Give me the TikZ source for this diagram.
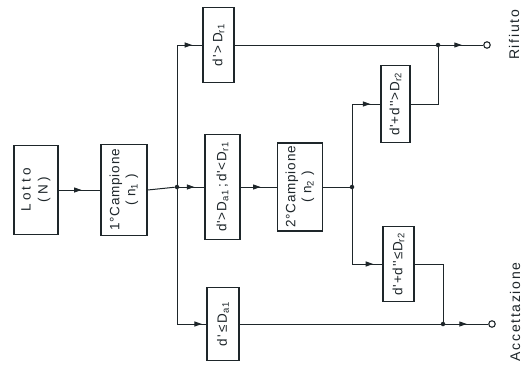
\documentclass[tikz,border=0pt]{standalone}
\usepackage{fontspec}
\setmainfont{Liberation Sans}
\newfontfamily\boxfont[LetterSpace=6]{Liberation Sans}
\newfontfamily\wideboxfont[LetterSpace=25]{Liberation Sans}
\newfontfamily\labfont[LetterSpace=12]{Liberation Sans}
\usetikzlibrary{arrows.meta,decorations.markings}
\definecolor{ink}{RGB}{30,38,42}
\begin{document}
\begin{tikzpicture}[x=1pt,y=-1pt,
  box/.style={draw=ink, line width=1.4pt, rotate=90, inner sep=0pt, align=center,
    font=\boxfont\fontsize{13.5}{16}\selectfont, text=ink},
  ln/.style={draw=ink, line width=1pt},
  midarrow/.style={postaction={decorate},decoration={markings,
    mark=at position #1 with {\arrow{Triangle[length=7.5pt,width=5pt]}}}},
  dot/.style={circle, fill=ink, inner sep=0pt, minimum size=4.5pt},
  term/.style={circle, draw=ink, line width=1.1pt, fill=white, inner sep=0pt, minimum size=6.5pt},
  lab/.style={rotate=90, font=\labfont\fontsize{14}{16}\selectfont, text=ink}
]
\useasboundingbox (0,0) rectangle (525,367);
\fill[white] (0,0) rectangle (525,367);

% boxes
\node[box, minimum width=89pt, minimum height=44pt, font=\wideboxfont\fontsize{13.5}{17}\selectfont] (lotto) at (36,190) {Lotto\\(N)};
\node[box, minimum width=91pt, minimum height=46pt] (camp1) at (124,190) {1°Campione\\( n\textsubscript{1} )};
\node[box, minimum width=75pt, minimum height=31pt] (r1) at (218.5,45) {d'\,>\,D\textsubscript{r1}};
\node[box, minimum width=105pt, minimum height=35pt] (mid) at (222.5,187) {d'>D\textsubscript{a1}\,;\,d'<D\textsubscript{r1}};
\node[box, minimum width=73pt, minimum height=32pt] (a1) at (223,324) {d'\,≤\,D\textsubscript{a1}};
\node[box, minimum width=88pt, minimum height=45pt] (camp2) at (300,187) {2°Campione\\( n\textsubscript{2} )};
\node[box, minimum width=77pt, minimum height=29pt] (r2) at (395.5,104) {d'+d''>D\textsubscript{r2}};
\node[box, minimum width=75pt, minimum height=31pt] (a2) at (398.5,264) {d'+d''≤D\textsubscript{r2}};

% junctions
\node[dot] (j1) at (177,187) {};
\coordinate (j1t) at (177,45);
\coordinate (j1b) at (177,324);
\node[dot] (j2) at (352,187) {};
\coordinate (j2t) at (352,104);
\coordinate (j2b) at (352,264);
\node[dot] (k1) at (438,45) {};
\coordinate (k1b) at (438,104);
\node[dot] (k3) at (443,324) {};
\coordinate (k3t) at (443,264);
\node[term] (o1) at (487,45) {};
\node[term] (o2) at (492,324) {};

% connectors
\draw[ln, midarrow=0.55] (lotto.south) -- (camp1.north);
\draw[ln] (camp1.south) -- (j1);
\draw[ln] (j1t) -- (j1b);
\draw[ln, midarrow=0.6] (j1t) -- (r1.north);
\draw[ln, midarrow=0.6] (j1) -- (mid.north);
\draw[ln, midarrow=0.85] (j1b) -- (a1.north);
\draw[ln, midarrow=0.55] (mid.south) -- (camp2.north);
\draw[ln] (camp2.south) -- (j2);
\draw[ln] (j2t) -- (j2b);
\draw[ln, midarrow=0.65] (j2t) -- (r2.north);
\draw[ln, midarrow=0.7] (j2b) -- (a2.north);
\draw[ln] (r1.south) -- (k1);
\draw[ln] (r2.south) -- (k1b) -- (k1);
\draw[ln, midarrow=0.5] (k1) -- (o1);
\draw[ln] (a1.south) -- (k3);
\draw[ln] (a2.south) -- (k3t) -- (k3);
\draw[ln, midarrow=0.5] (k3) -- (o2);

% labels
\node[lab] (rif) at (514,35) {Rifiuto};
\node[lab] (acc) at (515,312) {Accettazione};
\end{tikzpicture}
\end{document}
